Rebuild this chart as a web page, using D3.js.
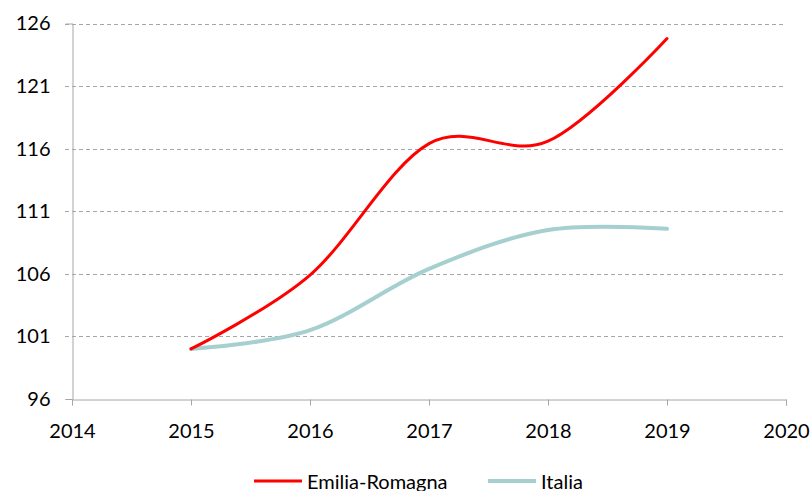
<!DOCTYPE html>
<html>
<head>
<meta charset="utf-8">
<script src="https://cdn.jsdelivr.net/npm/d3@7"></script>
<style>
  body { margin: 0; background: #fff; }
  text { font-family: Lato, "Open Sans", sans-serif; fill: #000; }
</style>
</head>
<body>
<svg id="chart"></svg>
<script>
// Data
const years = [2015, 2016, 2017, 2018, 2019];
const emiliaRomagna = [100, 105.9, 116.4, 116.6, 124.8];
const italia = [100, 101.5, 106.4, 109.5, 109.6];
const yTicks = [96, 101, 106, 111, 116, 121, 126];
const xTicks = [2014, 2015, 2016, 2017, 2018, 2019, 2020];
const seriesNames = ["Emilia-Romagna", "Italia"];
const seriesColors = ["#FF0000", "#A6CFCF"];

const width = 811;
const height = 491;
const margin = { top: 23.5, right: 25, bottom: 92, left: 72 };

const svg = d3.select("#chart")
    .attr("width", width)
    .attr("height", height);

const x = d3.scaleLinear()
    .domain([2014, 2020])
    .range([margin.left, width - margin.right]);

const y = d3.scaleLinear()
    .domain([96, 126])
    .range([height - margin.bottom, margin.top]);

// Dashed gridlines (they also make the small outer tick on the left)
svg.append("g")
    .selectAll("line")
    .data(yTicks.filter(d => d !== 96))
    .join("line")
    .attr("x1", margin.left - 7)
    .attr("x2", width - margin.right)
    .attr("y1", d => Math.round(y(d)) + 0.5)
    .attr("y2", d => Math.round(y(d)) + 0.5)
    .attr("stroke", "#A6A6A6")
    .attr("stroke-width", 1)
    .attr("stroke-dasharray", "4,3");

// Y axis
const yAxis = svg.append("g")
    .attr("transform", `translate(${margin.left + 0.5},0)`)
    .call(d3.axisLeft(y).tickValues(yTicks).tickSize(7).tickPadding(15));
yAxis.select(".domain").attr("stroke", "#A6A6A6");
yAxis.selectAll(".tick line").attr("stroke", d => d === 96 ? "#A6A6A6" : "none");
yAxis.selectAll(".tick text")
    .attr("font-size", 20)
    .style("font-family", "Lato, sans-serif");

// X axis
const xAxis = svg.append("g")
    .attr("transform", `translate(0,${Math.round(y(96)) + 0.5})`)
    .call(d3.axisBottom(x).tickValues(xTicks).tickFormat(d3.format("d")).tickSize(6).tickPadding(18));
xAxis.select(".domain").attr("stroke", "#A6A6A6");
xAxis.selectAll(".tick line").attr("stroke", "#A6A6A6");
xAxis.selectAll(".tick text")
    .attr("font-size", 20)
    .style("font-family", "Lato, sans-serif");

// Smooth lines, Excel-like
const line = d3.line()
    .x((d, i) => x(years[i]))
    .y(d => y(d))
    .curve(d3.curveCardinal.tension(0));

svg.append("path")
    .datum(italia)
    .attr("fill", "none")
    .attr("stroke", seriesColors[1])
    .attr("stroke-width", 4)
    .attr("stroke-linecap", "round")
    .attr("d", line);

svg.append("path")
    .datum(emiliaRomagna)
    .attr("fill", "none")
    .attr("stroke", seriesColors[0])
    .attr("stroke-width", 3)
    .attr("stroke-linecap", "round")
    .attr("d", line);

// Legend
const legendItems = [
    { name: seriesNames[0], color: seriesColors[0], x: 254, w: 3 },
    { name: seriesNames[1], color: seriesColors[1], x: 488, w: 4 }
];
const legend = svg.append("g");
legendItems.forEach(item => {
    legend.append("line")
        .attr("x1", item.x).attr("x2", item.x + 48)
        .attr("y1", 481).attr("y2", 481)
        .attr("stroke", item.color)
        .attr("stroke-width", item.w);
    legend.append("text")
        .attr("x", item.x + 53)
        .attr("y", 489)
        .attr("font-size", 20)
        .text(item.name);
});
</script>
</body>
</html>
